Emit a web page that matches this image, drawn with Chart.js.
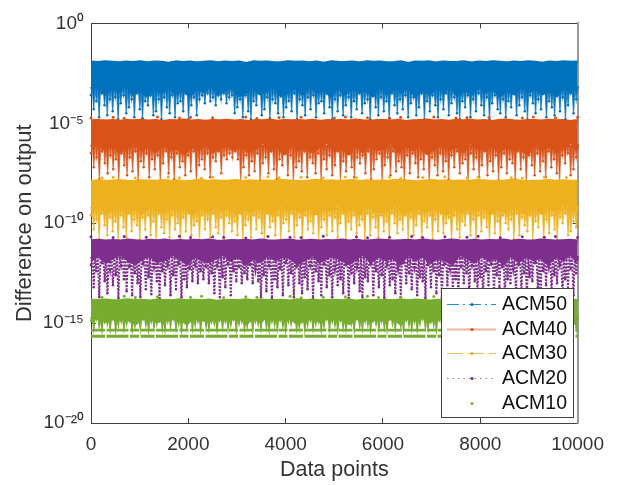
<!DOCTYPE html>
<html><head><meta charset="utf-8">
<style>html,body{margin:0;padding:0;background:#fff}canvas{display:block}</style>
<script src="https://cdn.jsdelivr.net/npm/chart.js@4"></script>
</head><body><canvas id="c" width="619" height="485"></canvas>
<script>
// All series values are log10 of the difference.
const seriesNames=["ACM50","ACM40","ACM30","ACM20","ACM10"];
const xTicksMax=10000;
const yTickExps=[0,-5,-10,-15,-20];
const tailKnees=[-3.2,-6.1,-9.2,-11.7,-14.6];
const acm50Core=[-1.96,-3.3,-1.98,-3.1,-1.95,-3.5,-1.97,-3.2,-2,-3.4,-1.96,-3,-1.98,-3.5,-1.95,-3.3,-1.99,-3.6,-1.96,-3.2,-1.97,-3.4,-2.02,-3.1,-1.95,-3.5,-1.98,-3.3,-1.96,-3.6,-2,-3.2,-1.97,-3.4,-1.95,-3,-1.99,-3.5,-1.96,-3.3,-1.98,-3.1,-1.96,-3.6,-2.03,-3.4,-1.95,-3.2,-1.97,-3.5,-1.96,-3.3,-2,-3.1,-1.98,-3.6,-1.95,-3.4,-1.97,-3.2,-1.96,-3.5,-1.99,-3,-1.96,-3.4,-2.02,-3.3,-1.95,-3.6,-1.97,-3.1,-1.98,-3.5,-1.96,-3.2,-2,-3.4,-1.95,-3.3,-1.97,-3.6,-1.96,-3,-1.99,-3.5,-1.98,-3.2,-1.95,-3.4,-2.03,-3.1,-1.96,-3.6,-1.97,-3.3,-1.95,-3.5,-2,-3.2,-1.96,-3.4,-1.98,-3,-1.97,-3.6,-1.95,-3.3,-2.01,-3.5,-1.96,-3.1,-1.98,-3.4,-1.95,-3.2,-1.97,-3.6,-2,-3.3,-1.96,-3.5,-1.98,-3.1,-1.95,-3.4,-1.97,-3.2,-2.02,-3.5,-1.96,-3.3,-1.98,-3.6,-1.95,-3.1,-1.97,-3.4,-1.96,-3.2];
const acm50Tail=[-3.6,-4.3,-3.9,-4.7,-3.5,-4.1,-4.6,-3.8,-4.4,-3.7,-4.8,-4,-3.6,-4.5,-4.2,-3.8,-4.7,-3.5,-4.3,-4.75,-3.9,-4.1,-3.6,-4.6,-4.4,-3.8,-4.8,-3.7,-4.2,-4.5,-3.6,-4.7,-4,-3.9,-4.4,-3.5,-4.8,-4.1,-3.7,-4.6,-3.8,-3.6,-4,-3.5,-3.9,-3.7,-4.1,-3.6,-3.8,-3.5,-4,-3.7,-3.6,-4.5,-4.2,-3.8,-4.7,-3.6,-4.4,-4.8,-3.9,-4.1,-3.5,-4.6,-4.3,-3.7,-4.75,-3.8,-4,-4.5,-3.6,-4.7,-4.2,-3.9,-4.4,-3.5,-4.8,-3.8,-4.1,-4.6,-3.7,-4.3,-3.6,-4.7,-4,-3.9,-4.5,-3.5,-4.2,-4.8,-3.8,-4.4,-3.6,-4.6,-4.1,-3.7,-4.7,-3.9,-4.3,-3.5,-4.5,-4,-3.8,-4.8,-3.6,-4.2,-4.6,-3.7,-4.4,-3.9,-4.75,-3.5,-4.1,-4.5,-3.8,-4.3,-3.6,-4.7,-4,-3.7,-4.6,-4.2,-3.5,-4.8,-3.9,-4.4,-3.6,-4.1,-4.7,-3.8,-4.3,-3.5,-4.6,-4,-3.7,-4.5,-4.8,-3.9,-4.2,-3.6,-4.7,-3.8,-4.4,-3.5,-4.1,-4.6,-3.7,-4.8,-4,-3.6,-4.3,-4.5,-3.8,-4.7,-3.9,-4.2,-3.5,-4.6,-4.1,-3.7,-4.4,-4.8,-3.6,-4,-4.5,-3.8,-4.3,-3.5,-4.7,-3.9,-4.2,-4.6,-3.6,-4.4,-3.7,-4.8,-4.1,-3.5,-4.5,-3.8];
const acm40Core=[-4.9,-6.2,-4.88,-6,-4.91,-6.3,-4.89,-6.1,-4.92,-6.4,-4.88,-6.2,-4.9,-5.9,-4.87,-6.3,-4.91,-6.1,-4.89,-6.4,-4.93,-6,-4.88,-6.3,-4.9,-6.2,-4.86,-6.5,-4.91,-6.1,-4.89,-6.3,-4.92,-5.9,-4.88,-6.4,-4.9,-6.2,-4.87,-6,-4.91,-6.3,-4.89,-6.1,-4.94,-6.4,-4.88,-6.2,-4.9,-5.9,-4.86,-6.3,-4.92,-6.1,-4.89,-6.5,-4.9,-6,-4.88,-6.3,-4.91,-6.2,-4.87,-6.4,-4.93,-6.1,-4.89,-5.9,-4.9,-6.3,-4.88,-6.2,-4.91,-6.5,-4.86,-6,-4.9,-6.4,-4.92,-6.1,-4.88,-6.3,-4.89,-6.2,-4.91,-5.9,-4.87,-6.4,-4.93,-6,-4.9,-6.3,-4.88,-6.1,-4.86,-6.5,-4.91,-6.2,-4.89,-6,-4.92,-6.3,-4.88,-6.1,-4.9,-6.4,-4.87,-5.9,-4.91,-6.2,-4.89,-6.3,-4.93,-6,-4.88,-6.4,-4.86,-6.1,-4.9,-6.3,-4.92,-6.2,-4.89,-6.5,-4.88,-6,-4.91,-6.3,-4.87,-6.1,-4.9,-6.4,-4.89,-6.2,-4.93,-5.9,-4.88,-6.3];
const acm40Tail=[-6.5,-7.2,-6.7,-7.8,-6.4,-7,-7.5,-6.6,-7.3,-6.8,-7.9,-6.5,-7.1,-7.6,-6.7,-7.4,-6.4,-7.85,-6.9,-7.2,-6.5,-7.7,-6.8,-7.3,-6.6,-7.9,-7,-6.4,-7.5,-6.7,-7.8,-6.5,-7.2,-6.9,-7.6,-6.6,-7.4,-6.4,-7.9,-7.1,-6.8,-7.3,-6.5,-7.7,-6.7,-6.9,-6.4,-7.5,-6.6,-6.8,-6.5,-6.7,-6.4,-6.8,-7.9,-7.2,-6.6,-7.6,-6.9,-7.4,-6.5,-7.85,-7,-6.7,-7.5,-6.4,-7.3,-7.8,-6.8,-7.1,-6.5,-7.6,-6.6,-7.9,-7.2,-6.9,-7.4,-6.4,-7.7,-6.7,-7,-7.5,-6.5,-7.85,-6.8,-7.3,-6.6,-7.6,-7.1,-6.4,-7.9,-6.9,-7.4,-6.5,-7.2,-7.7,-6.7,-7,-6.6,-7.5,-6.4,-7.8,-7.3,-6.8,-6.5,-7.9,-7.1,-6.7,-7.6,-6.4,-7.4,-6.9,-7.2,-7.85,-6.6,-7.5,-6.5,-7,-7.7,-6.8,-7.3,-6.4,-7.9,-6.7,-7.1,-7.6,-6.5,-7.4,-6.9,-7.8,-6.6,-7.2,-6.4,-7.5,-7,-6.8,-7.9,-6.5,-7.3,-6.7,-7.7,-7.1,-6.4,-7.6,-6.9,-7.4,-6.6,-7.85,-7.2,-6.5,-7.5,-6.8,-7,-7.8,-6.4,-7.3,-6.7,-7.9,-6.6,-7.1,-7.6,-6.5,-7.4,-6.9,-7.7,-6.4,-7.2,-6.8,-7.5,-7.9,-6.6,-7,-6.5,-7.6,-7.3,-6.7];
const acm30Core=[-7.92,-9.3,-7.9,-9.1,-7.93,-9.4,-7.91,-9.2,-7.89,-9,-7.92,-9.4,-7.94,-9.2,-7.9,-9.5,-7.91,-9.1,-7.93,-9.3,-7.89,-9.4,-7.92,-9,-7.9,-9.3,-7.95,-9.2,-7.91,-9.5,-7.88,-9.1,-7.93,-9.4,-7.9,-9.2,-7.92,-9.3,-7.91,-9,-7.89,-9.5,-7.94,-9.2,-7.9,-9.4,-7.92,-9.1,-7.91,-9.3,-7.93,-9.5,-7.89,-9,-7.9,-9.3,-7.92,-9.2,-7.95,-9.4,-7.91,-9.1,-7.88,-9.5,-7.93,-9.2,-7.9,-9.3,-7.92,-9,-7.91,-9.4,-7.89,-9.2,-7.94,-9.5,-7.9,-9.1,-7.92,-9.3,-7.91,-9.4,-7.93,-9.2,-7.88,-9,-7.9,-9.5,-7.92,-9.3,-7.95,-9.1,-7.91,-9.4,-7.89,-9.2,-7.93,-9.3,-7.9,-9.5,-7.92,-9,-7.91,-9.4,-7.94,-9.2,-7.89,-9.3,-7.9,-9.1,-7.93,-9.5,-7.92,-9.2,-7.91,-9.4,-7.88,-9,-7.9,-9.3,-7.95,-9.5,-7.92,-9.1,-7.91,-9.4,-7.89,-9.2,-7.93,-9.3,-7.9,-9,-7.92,-9.4,-7.91,-9.2];
const acm30Tail=[-9.6,-10.3,-9.8,-10.8,-9.5,-10.1,-10.6,-9.7,-10.4,-9.9,-10.85,-9.6,-10.2,-10.7,-9.5,-10.4,-9.8,-10.1,-10.8,-9.7,-10.3,-9.6,-10.6,-9.9,-10.85,-9.5,-10.2,-10.5,-9.8,-10.7,-9.6,-10.3,-10,-10.8,-9.7,-10.4,-9.5,-10.6,-10.1,-9.9,-10.85,-9.6,-10.3,-9.8,-10.7,-9.5,-10.2,-10.5,-9.7,-10.8,-9.6,-10,-10.4,-9.9,-10.6,-9.5,-10.85,-10.1,-9.8,-10.7,-9.6,-10.3,-9.7,-10.5,-10.8,-9.5,-10.2,-9.9,-10.6,-9.6,-10.85,-10,-9.8,-10.4,-9.5,-10.7,-10.1,-9.7,-10.8,-9.6,-10.3,-9.9,-10.5,-9.5,-10.85,-10.2,-9.8,-10.6,-9.6,-10.4,-9.7,-10.7,-10,-9.5,-10.8,-9.9,-10.3,-9.6,-10.5,-10.1,-9.8,-10.85,-9.5,-10.6,-9.7,-10.2,-10.7,-9.6,-10.4,-9.9,-10.8,-9.5,-10,-10.5,-9.8,-10.3,-9.6,-10.85,-9.7,-10.6,-10.1,-9.5,-10.7,-9.9,-10.2,-9.6,-10.8,-9.8,-10.4,-9.5,-10.5,-10,-9.7,-10.85,-9.6,-10.3,-10.7,-9.9,-10.1,-9.5,-10.6,-9.8,-10.8,-9.6,-10.4,-9.7,-10.2,-10.85,-9.5,-10.5,-9.9,-10.7,-9.6,-10,-10.3,-9.8,-10.8,-9.5,-10.6,-9.7,-10.1,-10.4,-9.6,-10.85,-9.9,-10.2,-9.5,-10.7,-9.8,-10.5,-9.6,-10.3,-10.8,-9.7,-10,-9.5,-10.6,-10.4,-9.9,-10.2];
const acm20Core=[-10.9,-11.8,-10.88,-11.6,-10.91,-11.9,-10.89,-11.7,-10.92,-11.5,-10.87,-11.8,-10.9,-12,-10.93,-11.7,-10.88,-11.6,-10.9,-11.9,-10.86,-11.8,-10.91,-11.5,-10.89,-11.7,-10.92,-12,-10.88,-11.6,-10.9,-11.8,-10.87,-11.9,-10.91,-11.7,-10.93,-11.5,-10.89,-11.8,-10.9,-11.6,-10.88,-12,-10.92,-11.7,-10.86,-11.9,-10.9,-11.5,-10.91,-11.8,-10.89,-11.6,-10.87,-11.7,-10.93,-12,-10.9,-11.8,-10.88,-11.5,-10.92,-11.9,-10.89,-11.7,-10.9,-11.6,-10.86,-11.8,-10.91,-12,-10.88,-11.7,-10.93,-11.5,-10.9,-11.9,-10.87,-11.6,-10.89,-11.8,-10.92,-11.7,-10.9,-12,-10.88,-11.5,-10.91,-11.8,-10.86,-11.6,-10.9,-11.9,-10.93,-11.7,-10.89,-11.8,-10.87,-12,-10.9,-11.5,-10.92,-11.7,-10.88,-11.9,-10.91,-11.6,-10.89,-11.8,-10.9,-11.7,-10.86,-12,-10.93,-11.5,-10.88,-11.9,-10.9,-11.6,-10.91,-11.8,-10.87,-11.7,-10.89,-12,-10.92,-11.6,-10.9,-11.8,-10.88,-11.5,-10.91,-11.9];
const acm20Tail=[-12.1,-13.2,-12.4,-13.7,-12,-12.9,-13.5,-12.3,-13.1,-12.6,-13.75,-12.1,-12.8,-13.4,-12.2,-13.6,-12.5,-13,-13.7,-12,-13.3,-12.7,-13.55,-12.2,-12.9,-13.75,-12.4,-13.1,-12.1,-13.6,-12.6,-13.3,-12,-13.7,-12.8,-13.2,-12.3,-12.9,-12.1,-13,-12.4,-12.8,-12.2,-13,-12.5,-13.5,-12.1,-13.7,-12.7,-13.2,-12,-13.6,-12.4,-12.9,-12.2,-13,-12.5,-12.8,-12.1,-13,-12.3,-12.9,-13.7,-12.6,-13.4,-12.1,-13.75,-12.8,-13.2,-12.3,-13.6,-12,-13.1,-12.5,-13.7,-12.2,-13,-13.5,-12.7,-13.3,-12.1,-13.75,-12.4,-12.9,-13.6,-12,-13.2,-12.6,-13.7,-12.3,-13.1,-12.8,-13.5,-12.1,-13.75,-12.5,-13,-12.2,-13.4,-13.7,-12.7,-12.9,-12,-13.6,-12.4,-13.2,-12.6,-13.75,-12.1,-13.1,-12.8,-13.5,-12.3,-13.7,-12,-13,-12.5,-13.3,-12.2,-13.6,-12.7,-12.9,-13.75,-12.1,-13.2,-12.4,-13.5,-12.6,-13.7,-12,-13.1,-12.3,-13.4,-12.8,-13.75,-12.2,-13,-12.5,-13.6,-12.1,-12.9,-13.3,-12.7,-13.7,-12.4,-13.1,-12,-13.5,-12.6,-13.2,-12.2,-13.75,-12.8,-13,-12.3,-13.6,-12.1,-13.4,-12.5,-13.7,-12.7,-12.9,-12,-13.2,-13.75,-12.4,-13.1,-12.2,-13.5,-12.6,-13,-12.1,-13.7,-12.8,-13.3,-12.3,-13.6,-12.5];
const acm10Core=[-13.88,-14.8,-13.9,-14.6,-13.87,-14.9,-13.91,-14.7,-13.89,-14.5,-13.86,-14.8,-13.9,-15,-13.88,-14.7,-13.92,-14.6,-13.87,-14.9,-13.89,-14.8,-13.9,-14.5,-13.86,-14.7,-13.91,-15,-13.88,-14.6,-13.9,-14.8,-13.87,-14.9,-13.93,-14.7,-13.89,-14.5,-13.88,-14.8,-13.9,-14.6,-13.86,-15,-13.91,-14.7,-13.87,-14.9,-13.89,-14.5,-13.9,-14.8,-13.88,-14.6,-13.92,-14.7,-13.86,-15,-13.9,-14.8,-13.87,-14.5,-13.91,-14.9,-13.89,-14.7,-13.88,-14.6,-13.9,-14.8,-13.86,-15,-13.93,-14.7,-13.87,-14.5,-13.9,-14.9,-13.89,-14.6,-13.88,-14.8,-13.91,-14.7,-13.86,-15,-13.9,-14.5,-13.87,-14.8,-13.89,-14.6,-13.92,-14.9,-13.88,-14.7,-13.9,-14.8,-13.86,-15,-13.91,-14.5,-13.87,-14.7,-13.89,-14.9,-13.9,-14.6,-13.88,-14.8,-13.93,-14.7,-13.86,-15,-13.9,-14.5,-13.87,-14.9,-13.89,-14.6,-13.91,-14.8,-13.88,-14.7,-13.9,-15,-13.86,-14.6,-13.92,-14.8,-13.87,-14.5,-13.89,-14.9];
const acm10Tail=[-14.9,-15.2,-14.8,-15.1,-15.25,-14.9,-15,-15.2,-14.8,-15.25,-15.05,-14.9,-15.2,-15,-14.85,-15.25,-15.1,-14.9,-15.2,-14.8,-15.05,-15.25,-14.9,-15.15,-15,-14.85,-15.2,-15.25,-14.9,-15.1,-14.8,-15.2,-15,-15.25,-14.9,-15.15,-14.85,-15.2,-15.05,-14.9,-15.25,-14.8,-15.1,-15.2,-14.9,-15,-15.25,-14.85,-15.15,-14.9,-15.2,-15.05,-14.8,-15.25,-15,-14.9,-15.2,-15.1,-14.85,-15.25,-14.9,-15,-15.2,-14.8,-15.15,-15.25,-14.9,-15.05,-15.2,-14.85,-15.1,-15.25,-14.9,-15,-14.8,-15.2,-15.15,-14.9,-15.25,-15.05,-14.85,-15.2,-15,-14.9,-15.25,-15.1,-14.8,-15.2,-14.9,-15.05,-15.25,-14.85,-15.15,-15.2,-14.9,-15,-15.25,-14.8,-15.1,-15.2,-14.9,-15.05,-15.25,-14.85,-15,-15.2,-14.9,-15.15,-15.25,-14.8,-15,-15.2,-14.9,-15.1,-15.25,-14.85,-15.05,-15.2,-14.9,-15.25,-15,-14.8,-15.15,-15.2,-14.9,-15.05,-15.25,-14.85,-15.1,-15.2,-14.9,-15,-15.25,-14.8,-15.2,-15.05,-14.9,-15.15,-15.25,-14.85,-15,-15.2,-14.9,-15.1,-15.25,-14.8,-15.05,-15.2,-14.9,-15.25,-15,-14.85,-15.15,-15.2,-14.9,-15.05,-15.25,-14.8,-15.1,-15.2,-14.9,-15,-15.25,-14.85,-15.2,-15.1,-14.9,-15.05,-15.25,-14.8,-15.15,-15.2,-14.9,-15,-15.25,-14.85,-15.05,-15.2];
const acm40Stray=[-4.72,null,-4.7,-4.75,null,null,-4.68,null,-4.74,-4.7,null,-4.72,null,null,-4.69,-4.76,null,-4.71,null,-4.7,null,null,-4.74,-4.68,null,-4.72,null,-4.75,-4.7,null,null,-4.69,null,-4.73,-4.71,null,-4.7,null,null,-4.74,-4.68,null,-4.72,null,-4.7];
const acm30Stray=[null,-7.72,-7.7,null,-7.74,null,null,-7.69,-7.72,null,-7.75,-7.7,null,null,-7.71,null,-7.68,-7.73,null,-7.7,null,-7.74,null,-7.69,-7.72,null,null,-7.7,-7.75,null,-7.71,null,-7.68,null,-7.73,-7.7,null,null,-7.72,-7.74,null,-7.69,null,-7.71,null];
const acm20Stray=[-10.68,null,-10.72,-10.66,null,-10.7,null,null,-10.65,-10.72,null,-10.68,-10.7,null,-10.74,null,-10.66,null,-10.7,-10.72,null,-10.65,null,null,-10.68,-10.73,null,-10.7,null,-10.66,-10.72,null,-10.68,null,-10.7,-10.65,null,-10.73,null,-10.68,null,-10.7,-10.66,null,-10.72];
const acm10Stray=[null,-13.7,null,-13.66,-13.72,null,-13.68,null,null,-13.7,-13.65,null,-13.72,null,-13.68,-13.7,null,null,-13.66,-13.73,null,-13.7,null,-13.68,null,-13.65,-13.72,null,-13.7,null,null,-13.67,-13.7,null,-13.73,null,-13.68,-13.66,null,-13.7,null,-13.72,null,-13.68,null];
const acm10FloorA=[-15.35,-15.35];
const acm10FloorB=[-15.66,-15.66];
const colors=["#0072BD","#D95319","#EDB120","#7E2F8E","#77AC30"];
const palePalette=["rgba(0,114,189,.75)","rgba(217,83,25,.7)","rgba(237,177,32,.75)","#7E2F8E","#77AC30"];

const pts=a=>a.map((e,i)=>({x:i*xTicksMax/(a.length-1),y:e===null?null:Math.pow(10,e)}));
const core=[acm50Core,acm40Core,acm30Core,acm20Core,acm10Core];
const tail=[acm50Tail,acm40Tail,acm30Tail,acm20Tail,acm10Tail];
const strays=[null,acm40Stray,acm30Stray,acm20Stray,acm10Stray];
const datasets=[];
seriesNames.forEach((name,k)=>{
  const up=core[k].filter((_,i)=>i%2===0),dn=core[k].filter((_,i)=>i%2===1);
  // each low excursion leaves the solid band and returns to it, so the line forms a thin spike
  const spikes=tail[k].reduce((o,e)=>{o.push(e,tailKnees[k]);return o},[]);
  datasets.push({label:name,data:pts(up),borderColor:colors[k],backgroundColor:colors[k],borderWidth:4,borderJoinStyle:"round",pointRadius:0,fill:"+1",order:20-2*k,clip:false});
  datasets.push({label:name+" core",data:pts(dn),borderColor:colors[k],borderWidth:4,borderJoinStyle:"round",pointRadius:0,fill:false,order:20-2*k,clip:false});
  datasets.push({label:name+" low",data:pts(spikes),borderColor:palePalette[k],backgroundColor:colors[k],borderWidth:k===3?2:(k===4?1.8:1.3),borderDash:k===3?[2,1.4]:[],pointRadius:k===4?0.9:1.25,pointBorderWidth:0,fill:k===3?false:{value:Math.pow(10,tailKnees[k])},order:21-2*k,clip:false});
  if(strays[k])datasets.push({label:name+" high",data:pts(strays[k]),showLine:false,backgroundColor:colors[k],pointRadius:1.5,pointBorderWidth:0,fill:false,order:19-2*k,clip:false});
});
[acm10FloorA,acm10FloorB].forEach((f,j)=>datasets.push({label:"ACM10 floor "+j,data:pts(f),borderColor:colors[4],borderWidth:j?3:2.6,borderDash:[14,1.5,22,1.5,9,1.5],pointRadius:0,fill:false,order:0,clip:false}));

const sup={"0":"\u2070","5":"\u2075","1":"\u00B9","2":"\u00B2","-":"\u207B"};
const legendPlugin={id:"boxLegend",afterDatasetsDraw(chart){
  const c=chart.ctx,b={l:441,t:288,r:574,b:418},rows=[304,329,353,378,403];
  c.save();c.fillStyle="#fff";c.strokeStyle="#404040";c.lineWidth=1;
  c.fillRect(b.l,b.t,b.r-b.l,b.b-b.t);c.strokeRect(b.l+.5,b.t+.5,b.r-b.l-1,b.b-b.t-1);
  const dash=[[12,4,2,4],[],[16,5],[1.5,4],null],w=[1,2,1,1,0],sc=["#1f8fd8","#f2b49a","#f2bf5e","#a76bb3",""];
  seriesNames.forEach((n,i)=>{
    const y=rows[i];
    if(dash[i]){c.setLineDash(dash[i]);c.strokeStyle=sc[i];c.lineWidth=w[i];c.beginPath();c.moveTo(447,y+.5);c.lineTo(496,y+.5);c.stroke();c.setLineDash([]);}
    c.fillStyle=colors[i];c.beginPath();c.arc(472,y+.5,1.6,0,7);c.fill();
    c.fillStyle="#111";c.font="19.5px 'Liberation Sans'";c.textAlign="left";c.textBaseline="middle";c.fillText(n,502,y+1);
  });
  c.restore();
}};
const axisCol="#404040",f=s=>({family:"'Liberation Sans'",size:s});
new Chart(document.getElementById("c"),{
  type:"line",
  data:{datasets},
  plugins:[legendPlugin],
  options:{
    responsive:false,animation:false,normalized:true,
    layout:{padding:{top:14,right:41,left:0,bottom:0}},
    plugins:{legend:{display:false},tooltip:{enabled:false}},
    scales:{
      x:{type:"linear",min:0,max:xTicksMax,position:"bottom",
        afterFit:s=>{s.height=62},
        border:{color:axisCol,width:1},
        grid:{drawOnChartArea:false,drawTicks:true,tickLength:-5,color:axisCol},
        ticks:{stepSize:2000,maxRotation:0,padding:15,color:"#333",font:f(19),callback:v=>String(v)},
        title:{display:true,text:"Data points",color:"#333",font:f(21.5),padding:{top:0,bottom:2}}},
      y:{type:"logarithmic",min:1e-20,max:1,position:"left",
        afterFit:s=>{s.width=91},
        afterBuildTicks:s=>{s.ticks=yTickExps.map(e=>({value:Math.pow(10,e)}))},
        border:{color:axisCol,width:1},
        grid:{drawOnChartArea:false,drawTicks:true,tickLength:-5,color:axisCol},
        ticks:{padding:12,color:"#333",font:f(19),autoSkip:false,
          callback:v=>"10"+String(Math.round(Math.log10(v))).split("").map(ch=>sup[ch]).join("")},
        title:{display:true,text:"Difference on output",color:"#333",font:f(22),padding:{top:12,bottom:0}}},
      x2:{type:"linear",min:0,max:xTicksMax,position:"top",afterFit:s=>{s.height=0},
        border:{color:axisCol,width:1},
        grid:{drawOnChartArea:false,tickLength:-5,color:axisCol},
        ticks:{stepSize:2000,display:false}},
      y2:{type:"logarithmic",min:1e-20,max:1,position:"right",afterFit:s=>{s.width=0},
        afterBuildTicks:s=>{s.ticks=yTickExps.map(e=>({value:Math.pow(10,e)}))},
        border:{color:"#9a9a9a",width:2},
        grid:{drawOnChartArea:false,tickLength:-5,color:axisCol},
        ticks:{display:false}}
    }
  }
});
</script></body></html>
